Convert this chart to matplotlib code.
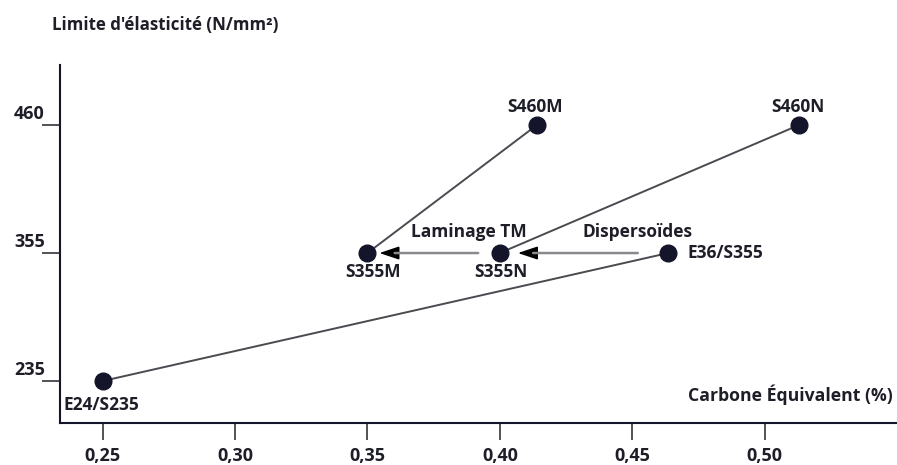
import numpy as np
import matplotlib
matplotlib.use("Agg")
import matplotlib.pyplot as plt

plt.rcParams['font.family'] = ['Open Sans', 'DejaVu Sans']

# ---- data ----
grades = ["E24/S235", "S355M", "S355N", "E36/S355", "S460M", "S460N"]
carbon_eq = [0.25, 0.35, 0.40, 0.4636, 0.414, 0.513]
yield_strength = [235, 355, 355, 355, 460, 460]
links = [("E24/S235", "E36/S355"), ("S355M", "S460M"), ("S355N", "S460N")]
arrows = [("E36/S355", "S355N", "Dispersoïdes"), ("S355N", "S355M", "Laminage TM")]
x_ticks = [0.25, 0.30, 0.35, 0.40, 0.45, 0.50]
x_tick_labels = ["0,25", "0,30", "0,35", "0,40", "0,45", "0,50"]
y_ticks = [235, 355, 460]
y_tick_labels = ["235", "355", "460"]
y_title = "Limite d'élasticité (N/mm²)"
x_title = "Carbone Équivalent (%)"

pts = {g: (x, y) for g, x, y in zip(grades, carbon_eq, yield_strength)}

# piecewise (equally spaced ticks) y scale
ref_vals = np.array(y_ticks, dtype=float)
ref_pos = np.arange(len(y_ticks), dtype=float)
def fwd(v):
    v = np.asarray(v, dtype=float)
    out = np.interp(v, ref_vals, ref_pos)
    out = np.where(v < ref_vals[0], (v - ref_vals[0]) / (ref_vals[1] - ref_vals[0]), out)
    out = np.where(v > ref_vals[-1], ref_pos[-1] + (v - ref_vals[-1]) / (ref_vals[-1] - ref_vals[-2]), out)
    return out
def inv(p):
    p = np.asarray(p, dtype=float)
    out = np.interp(p, ref_pos, ref_vals)
    out = np.where(p < ref_pos[0], ref_vals[0] + p * (ref_vals[1] - ref_vals[0]), out)
    out = np.where(p > ref_pos[-1], ref_vals[-1] + (p - ref_pos[-1]) * (ref_vals[-1] - ref_vals[-2]), out)
    return out

fig = plt.figure(figsize=(8.97, 4.65), dpi=100)
ax = fig.add_axes([60/897, 42/465, 837/897, 358/465])
ax.set_yscale('function', functions=(fwd, inv))
ax.set_xlim(0.2339, 0.550)
ax.set_ylim(inv(-0.328), inv(2.469))

dark = '#14142a'
txt = '#1e1e28'
lab_fs = 12.5

for a, b in links:
    ax.plot([pts[a][0], pts[b][0]], [pts[a][1], pts[b][1]], color='#4a4a50', lw=1.4, zorder=2)

for a, b, lab in arrows:
    shrinkB = 13 if b == "S355N" else 8.6
    shrinkA = 22 if a == "E36/S355" else 15.6
    ax.annotate('', xy=pts[b], xytext=pts[a],
                arrowprops=dict(arrowstyle='-|>,head_length=0.6,head_width=0.2',
                                color='black', lw=1.2, shrinkA=shrinkA, shrinkB=shrinkB,
                                mutation_scale=20), zorder=3)
    ax.annotate('', xy=pts[b], xytext=pts[a],
                arrowprops=dict(arrowstyle='-', color='#8a8a8e', lw=1.8,
                                shrinkA=shrinkA, shrinkB=shrinkB + 11), zorder=4)
    ax.annotate(lab, xy=pts[a], xytext=(-22, 15), textcoords='offset points',
                ha='center', va='center', fontsize=lab_fs, fontweight='bold', color=txt)

ax.plot(carbon_eq, yield_strength, 'o', ms=12, color=dark, zorder=5)

label_offsets = {
    "E24/S235": ((-28, -17), 'left'),
    "S355M": ((4, -14), 'center'),
    "S355N": ((1, -14), 'center'),
    "E36/S355": ((14, 0), 'left'),
    "S460M": ((-1.5, 13), 'center'),
    "S460N": ((-0.5, 13), 'center'),
}
for g in grades:
    off, ha = label_offsets[g]
    ax.annotate(g, xy=pts[g], xytext=off, textcoords='offset points',
                ha=ha, va='center', fontsize=lab_fs, fontweight='bold', color=txt)

for s in ['top', 'right']:
    ax.spines[s].set_visible(False)
for s in ['left', 'bottom']:
    ax.spines[s].set_color(dark)
    ax.spines[s].set_linewidth(1.5)

ax.set_xticks(x_ticks)
ax.set_xticklabels(x_tick_labels, fontsize=13, fontweight='bold', color=txt)
ax.tick_params(axis='x', direction='out', length=12, width=1.2, color='#33333a', pad=5)
ax.set_yticks(y_ticks)
ax.set_yticklabels([])
ax.tick_params(axis='y', direction='out', length=13, width=1.2, color='#33333a')
for v, lab in zip(y_ticks, y_tick_labels):
    ax.annotate(lab, xy=(0, v), xycoords=('axes fraction', 'data'), xytext=(-11, 8),
                textcoords='offset points', ha='right', va='center',
                fontsize=13, fontweight='bold', color=txt, annotation_clip=False)

fig.text(52/897, 1 - 25/465, y_title, ha='left', va='center', fontsize=12.2,
         fontweight='bold', color=txt)
ax.annotate(x_title, xy=(1, 0), xycoords='axes fraction', xytext=(-3, 20),
            textcoords='offset points', ha='right', va='center', fontsize=12.7,
            fontweight='bold', color=txt)

fig.savefig('out.png', dpi=100)
